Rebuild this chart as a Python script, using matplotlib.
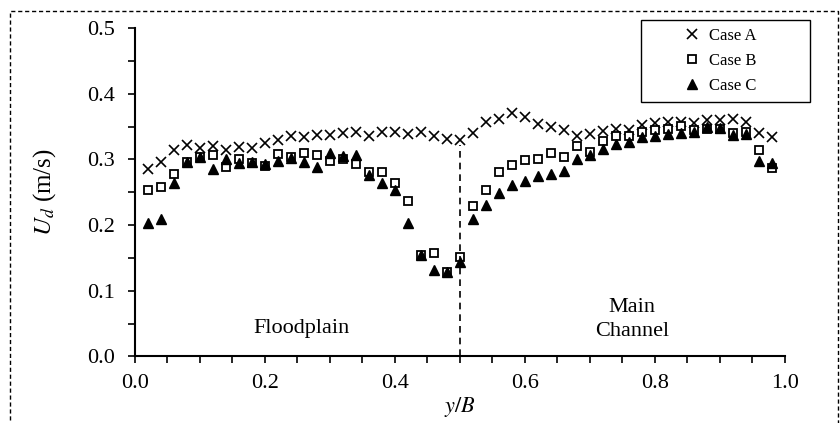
import matplotlib
matplotlib.use("Agg")
import matplotlib.pyplot as plt
from matplotlib.patches import Rectangle
from matplotlib.ticker import MultipleLocator, FormatStrFormatter

plt.rcParams["font.family"] = ["Liberation Serif", "DejaVu Serif"]
plt.rcParams["mathtext.fontset"] = "stix"

# lateral position y/B
y_b = [0.02, 0.04, 0.06, 0.08, 0.10, 0.12, 0.14, 0.16, 0.18, 0.20,
       0.22, 0.24, 0.26, 0.28, 0.30, 0.32, 0.34, 0.36, 0.38, 0.40,
       0.42, 0.44, 0.46, 0.48, 0.50, 0.52, 0.54, 0.56, 0.58, 0.60,
       0.62, 0.64, 0.66, 0.68, 0.70, 0.72, 0.74, 0.76, 0.78, 0.80,
       0.82, 0.84, 0.86, 0.88, 0.90, 0.92, 0.94, 0.96, 0.98]

# depth-averaged velocity Ud (m/s)
case_a = [0.285, 0.296, 0.314, 0.322, 0.318, 0.320, 0.315, 0.319, 0.318, 0.325,
          0.330, 0.335, 0.334, 0.337, 0.337, 0.340, 0.342, 0.336, 0.342, 0.342,
          0.339, 0.341, 0.335, 0.331, 0.330, 0.340, 0.357, 0.362, 0.370, 0.364,
          0.354, 0.350, 0.344, 0.336, 0.339, 0.343, 0.346, 0.345, 0.352, 0.355,
          0.357, 0.357, 0.355, 0.360, 0.360, 0.361, 0.357, 0.340, 0.334]
case_b = [0.254, 0.258, 0.277, 0.296, 0.304, 0.307, 0.289, 0.300, 0.295, 0.290,
          0.308, 0.304, 0.309, 0.307, 0.298, 0.300, 0.293, 0.281, 0.280, 0.264,
          0.237, 0.154, 0.157, 0.129, 0.151, 0.229, 0.253, 0.280, 0.291, 0.299,
          0.300, 0.309, 0.303, 0.320, 0.311, 0.328, 0.335, 0.335, 0.342, 0.345,
          0.346, 0.351, 0.345, 0.346, 0.346, 0.340, 0.342, 0.314, 0.287]
case_c = [0.203, 0.209, 0.264, 0.296, 0.303, 0.286, 0.300, 0.295, 0.296, 0.293,
          0.298, 0.302, 0.296, 0.288, 0.309, 0.305, 0.306, 0.276, 0.264, 0.254,
          0.203, 0.154, 0.132, 0.128, 0.143, 0.209, 0.230, 0.249, 0.261, 0.267,
          0.274, 0.277, 0.283, 0.301, 0.306, 0.316, 0.324, 0.327, 0.334, 0.336,
          0.338, 0.340, 0.341, 0.350, 0.348, 0.337, 0.338, 0.297, 0.294]

W, H = 840, 423
fig = plt.figure(figsize=(W / 100, H / 100), dpi=100)
ax = fig.add_axes([134.7 / W, 1 - 356.4 / H, 650 / W, 328.4 / H])

ax.plot(y_b, case_a, ls="none", marker="x", ms=6.5, mew=1.2, color="black", label="Case A")
ax.plot(y_b, case_b, ls="none", marker="s", ms=5.5, mew=1.3, mfc="white", mec="black", label="Case B")
ax.plot(y_b, case_c, ls="none", marker="^", ms=7.5, color="black", label="Case C")

# floodplain / main channel boundary
ax.plot([0.5, 0.5], [0.0, 0.322], ls=(0, (4, 3)), lw=1.2, color="black")

ax.text(0.256, 0.043, "Floodplain", fontsize=16, ha="center", va="center")
ax.text(0.765, 0.056, "Main\nChannel", fontsize=16, ha="center", va="center", linespacing=1.4)

ax.set_xlim(0, 1)
ax.set_ylim(0, 0.5)
ax.xaxis.set_major_locator(MultipleLocator(0.2))
ax.xaxis.set_minor_locator(MultipleLocator(0.05))
ax.yaxis.set_major_locator(MultipleLocator(0.1))
ax.yaxis.set_minor_locator(MultipleLocator(0.05))
ax.xaxis.set_major_formatter(FormatStrFormatter("%.1f"))
ax.yaxis.set_major_formatter(FormatStrFormatter("%.1f"))
ax.tick_params(which="both", direction="out", length=5, width=1.2, labelsize=16, color="black")
ax.tick_params(axis="x", pad=8)
ax.tick_params(axis="y", pad=9)
for side in ["top", "right"]:
    ax.spines[side].set_visible(False)
for side in ["left", "bottom"]:
    ax.spines[side].set_linewidth(1.5)

ax.set_xlabel("$y/B$", fontsize=16)
ax.xaxis.set_label_coords(0.5, -(395 - 356.4) / 328.4)
ax.set_ylabel("$U_d$ (m/s)", fontsize=18)
ax.yaxis.set_label_coords((58 - 134.7) / 650, 0.5)

# legend: text without frame, box drawn separately
leg = fig.legend(loc="center", bbox_to_anchor=(718 / W, 1 - 61 / H), fontsize=12,
                 frameon=False, handletextpad=0.3, handlelength=1.5,
                 labelspacing=0.55)
fig.patches.append(Rectangle((641 / W, 1 - 102 / H), 169 / W, 82 / H,
                             transform=fig.transFigure, fill=False,
                             lw=1.0, color="black"))

# dashed frame round the whole figure
fig.patches.append(Rectangle((10 / W, -0.1), 828 / W, 1.1 - 11 / H,
                             transform=fig.transFigure, fill=False,
                             ls=(0, (3, 2)), lw=1.0, color="black"))

fig.savefig("out.png", dpi=100)
